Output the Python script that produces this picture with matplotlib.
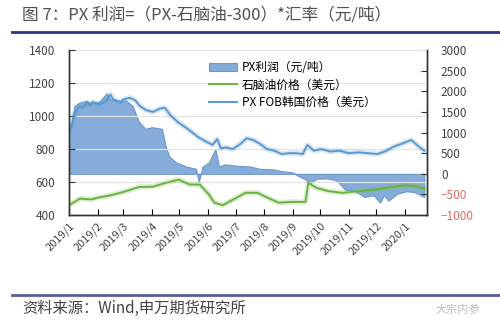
import matplotlib
matplotlib.use("Agg")
import matplotlib.pyplot as plt
import pandas as pd

plt.rcParams['font.family'] = ['Noto Sans CJK SC', 'DejaVu Sans']
plt.rcParams['savefig.bbox'] = 'standard'

# PX FOB Korea price (USD), left axis
px_dates = ['2019-01-01', '2019-01-04', '2019-01-07', '2019-01-12', '2019-01-16', '2019-01-20',
            '2019-01-24', '2019-01-27', '2019-02-03', '2019-02-07', '2019-02-11', '2019-02-15',
            '2019-02-18', '2019-02-21', '2019-02-26', '2019-03-01', '2019-03-08', '2019-03-14',
            '2019-03-19', '2019-03-26', '2019-04-02', '2019-04-10', '2019-04-15', '2019-04-22',
            '2019-04-30', '2019-05-08', '2019-05-15', '2019-05-22', '2019-05-30', '2019-06-06',
            '2019-06-11', '2019-06-15', '2019-06-21', '2019-06-28', '2019-07-06', '2019-07-13',
            '2019-07-20', '2019-07-28', '2019-08-04', '2019-08-12', '2019-08-20', '2019-08-28',
            '2019-09-05', '2019-09-12', '2019-09-17', '2019-09-24', '2019-10-02', '2019-10-12',
            '2019-10-22', '2019-11-01', '2019-11-12', '2019-11-22', '2019-12-02', '2019-12-10',
            '2019-12-20', '2019-12-30', '2020-01-08', '2020-01-15', '2020-01-22']
px_fob = [900, 940, 1010, 1060, 1050, 1080, 1065, 1085, 1070, 1080, 1095, 1130,
          1100, 1095, 1080, 1100, 1110, 1095, 1060, 1035, 1025, 1045, 1050, 1000,
          960, 930, 900, 870, 845, 825, 860, 805, 810, 800, 830, 865,
          855, 830, 800, 790, 770, 775, 775, 770, 825, 790, 800, 785,
          790, 775, 780, 775, 770, 785, 815, 835, 855, 820, 790]

# Naphtha price (USD), left axis
nap_dates = ['2019-01-01', '2019-01-13', '2019-01-25', '2019-02-01', '2019-02-15', '2019-03-01',
             '2019-03-18', '2019-04-02', '2019-04-16', '2019-04-30', '2019-05-12', '2019-05-23',
             '2019-06-02', '2019-06-08', '2019-06-17', '2019-06-27', '2019-07-12', '2019-07-25',
             '2019-08-03', '2019-08-17', '2019-08-31', '2019-09-15', '2019-09-18', '2019-09-27',
             '2019-10-10', '2019-10-25', '2019-11-12', '2019-12-01', '2019-12-18', '2020-01-02',
             '2020-01-12', '2020-01-22']
naphtha = [460, 500, 495, 505, 520, 540, 570, 572, 595, 615, 585, 585,
           525, 475, 460, 490, 535, 535, 510, 475, 480, 480, 595, 565,
           545, 535, 545, 555, 570, 580, 575, 560]

# PX profit (CNY/t), right axis
pr_dates = ['2019-01-01', '2019-01-04', '2019-01-07', '2019-01-12', '2019-01-20', '2019-01-26',
            '2019-02-03', '2019-02-11', '2019-02-15', '2019-02-21', '2019-03-04', '2019-03-11',
            '2019-03-18', '2019-03-25', '2019-04-01', '2019-04-12', '2019-04-16', '2019-04-20',
            '2019-04-27', '2019-05-08', '2019-05-19', '2019-05-22', '2019-05-26', '2019-06-02',
            '2019-06-09', '2019-06-13', '2019-06-20', '2019-07-05', '2019-07-16', '2019-07-28',
            '2019-08-10', '2019-08-22', '2019-08-31', '2019-09-08', '2019-09-16', '2019-09-20',
            '2019-09-27', '2019-10-08', '2019-10-18', '2019-10-28', '2019-11-08', '2019-11-18',
            '2019-11-28', '2019-12-05', '2019-12-09', '2019-12-14', '2019-12-24', '2020-01-03',
            '2020-01-12', '2020-01-22']
profit = [1100, 1300, 1650, 1720, 1770, 1700, 1750, 1950, 1800, 1780, 1770, 1650,
          1260, 1090, 1130, 1090, 670, 420, 280, 180, 120, -200, 170, 280,
          600, 180, 230, 190, 180, 120, 110, 60, 40, -60, -150, -230,
          -120, -110, -150, -380, -420, -560, -520, -700, -520, -650, -480, -420,
          -450, -560]

month_ticks = pd.date_range('2019-01-01', '2020-01-01', freq='MS')
month_labels = [f"{d.year}/{d.month}" for d in month_ticks]
right_ticks = list(range(-1000, 3001, 500))

fig = plt.figure(figsize=(5, 3.33), dpi=100)
ax2 = fig.add_axes([0.138, 0.354, 0.716, 0.496])
ax1 = ax2.twinx()
# keep the price axis on the left, profit on the right
ax1.yaxis.tick_left()
ax2.yaxis.tick_right()
ax1.set_zorder(ax2.get_zorder() + 1)
ax1.patch.set_visible(False)

pr_x = pd.to_datetime(pr_dates)
ax2.fill_between(pr_x, 0, profit, color='#86acd9', edgecolor='#6d98cc', linewidth=0.8,
                 label='PX利润（元/吨）')
ax2.set_ylim(-1000, 3000)
ax2.set_yticks(right_ticks)

nap_x = pd.to_datetime(nap_dates)
px_x = pd.to_datetime(px_dates)
ax1.plot(nap_x, naphtha, color='#7cc05a', lw=4, alpha=0.25)
ax1.plot(nap_x, naphtha, color='#6bb13f', lw=1.4, label='石脑油价格（美元）')
ax1.plot(px_x, px_fob, color='#6aa5d8', lw=4, alpha=0.25)
ax1.plot(px_x, px_fob, color='#5a98d0', lw=1.4, label='PX FOB韩国价格（美元）')
ax1.set_ylim(400, 1400)
ax1.set_yticks(range(400, 1401, 200))
ax1.grid(axis='y', color='#e4e4e4', lw=0.8)
ax2.grid(False)

ax2.set_xlim(pd.Timestamp('2019-01-01'), pd.Timestamp('2020-01-25'))
ax2.set_xticks(month_ticks)
ax2.set_xticklabels(month_labels, rotation=45, ha='right', rotation_mode='anchor')

for a in (ax1, ax2):
    for s in a.spines.values():
        s.set_color('#333333')
        s.set_linewidth(1.0)
    a.spines['top'].set_visible(False)
ax1.tick_params(axis='y', direction='in', length=4, pad=10, labelsize=8.5, colors='#444444')
ax1.tick_params(axis='y', color='#333333')
ax2.tick_params(axis='y', direction='in', length=4, pad=10, labelsize=8.5, color='#333333')
for lbl, v in zip(ax2.get_yticklabels(), right_ticks):
    lbl.set_color('#e06a6a' if v < 0 else '#444444')
ax2.tick_params(axis='x', direction='in', length=4, pad=4, labelsize=8, labelcolor='#444444')
ax1.tick_params(axis='x', bottom=False, labelbottom=False)

h2, l2 = ax2.get_legend_handles_labels()
h1, l1 = ax1.get_legend_handles_labels()
ax1.legend(h2 + h1, l2 + l1, loc='upper left', bbox_to_anchor=(0.36, 0.995), frameon=False,
           fontsize=8.5, handlelength=2.4, labelspacing=0.35, handletextpad=0.4)

# title and source blocks
fig.text(0.044, 0.955, '图 7：PX 利润=（PX-石脑油-300）*汇率（元/吨）', fontsize=12,
         color='#505050', va='center')
fig.add_artist(plt.Line2D([0.024, 1.0], [0.905, 0.905], color='#2b3585', lw=2))
fig.add_artist(plt.Line2D([0.024, 1.0], [0.115, 0.115], color='#5b5b98', lw=2))
fig.text(0.044, 0.075, '资料来源：Wind,申万期货研究所', fontsize=11, color='#444444', va='center')
fig.text(0.87, 0.07, '大宗内参', fontsize=8, color='#bbbbbb', va='center')

fig.savefig('out.png', dpi=100)
